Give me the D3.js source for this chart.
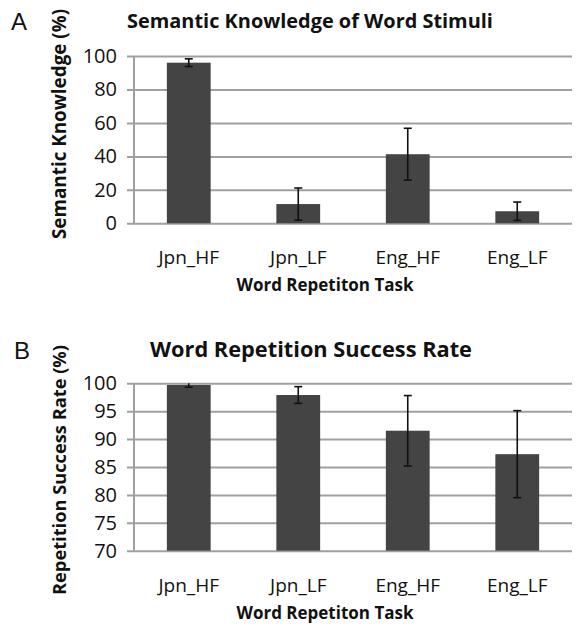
<!DOCTYPE html>
<html>
<head>
<meta charset="utf-8">
<script src="https://cdn.jsdelivr.net/npm/d3@7"></script>
<style>
  body { margin: 0; background: #fff; }
  svg text { font-family: "Open Sans", "DejaVu Sans", sans-serif; fill: #111; }
</style>
</head>
<body>
<svg id="chart" width="576" height="627"></svg>
<script>
// categories shared by both panels
var tasks = ['Jpn_HF', 'Jpn_LF', 'Eng_HF', 'Eng_LF'];

// panel A: semantic knowledge (%)
var knowledgeMean = [96, 11.5, 41.3, 7.2];
var knowledgeErr = [2.3, 9.6, 15.5, 5.5];
var knowledgeTicks = [0, 20, 40, 60, 80, 100];

// panel B: repetition success rate (%)
var successMean = [99.7, 97.9, 91.5, 87.3];
var successErr = [0.4, 1.5, 6.3, 7.8];
var successTicks = [70, 75, 80, 85, 90, 95, 100];

var svg = d3.select('#chart');

// scale a text's font so it runs about as long as the original label
function fitWidth(sel, base, width) {
    sel.style('font-size', base + 'px');
    var len = sel.node().getComputedTextLength();
    if (len > 0) sel.style('font-size', (base * width / len).toFixed(2) + 'px');
    return sel;
}

function drawPanel(opts) {
    var g = svg.append('g');

    var x = d3.scaleBand()
        .domain(tasks)
        .range([134, 572])
        .paddingInner(0.6)
        .paddingOuter(0.3);

    var y = d3.scaleLinear()
        .domain(opts.domain)
        .range([opts.bottom, opts.top]);

    // gridlines + outward ticks
    var yAxis = d3.axisLeft(y)
        .tickValues(opts.ticks)
        .tickSize(-(572 - 127))
        .tickPadding(10)
        .tickFormat(d3.format('d'));

    var ya = g.append('g')
        .attr('transform', 'translate(127,0)')
        .call(yAxis);
    ya.select('.domain').remove();
    ya.selectAll('.tick line')
        .attr('stroke', '#a0a0a0')
        .attr('stroke-width', 2);
    ya.selectAll('.tick text')
        .attr('x', -10)
        .style('font-size', '20px')
        .style('fill', '#111');

    // vertical axis line
    g.append('line')
        .attr('x1', 134).attr('x2', 134)
        .attr('y1', y(opts.domain[0])).attr('y2', y(opts.domain[1]))
        .attr('stroke', '#a0a0a0')
        .attr('stroke-width', 2);

    // bars
    g.selectAll('rect.bar')
        .data(opts.mean)
        .enter().append('rect')
        .attr('class', 'bar')
        .attr('x', function(d, i) { return x(tasks[i]); })
        .attr('width', x.bandwidth())
        .attr('y', function(d) { return y(d); })
        .attr('height', function(d) { return y(opts.domain[0]) - y(d); })
        .attr('fill', '#444');

    // error bars
    var eb = g.selectAll('g.err')
        .data(opts.mean)
        .enter().append('g')
        .attr('class', 'err')
        .attr('stroke', '#111')
        .attr('stroke-width', 1.6);

    eb.each(function(d, i) {
        var cx = x(tasks[i]) + x.bandwidth() / 2;
        var hi = Math.min(d + opts.err[i], opts.domain[1]);
        var lo = d - opts.err[i];
        var sel = d3.select(this);
        sel.append('line')
            .attr('x1', cx).attr('x2', cx)
            .attr('y1', y(hi)).attr('y2', y(lo));
        if (d + opts.err[i] <= opts.domain[1]) {
            sel.append('line')
                .attr('x1', cx - 4).attr('x2', cx + 4)
                .attr('y1', y(hi)).attr('y2', y(hi));
        }
        sel.append('line')
            .attr('x1', cx - 4).attr('x2', cx + 4)
            .attr('y1', y(lo)).attr('y2', y(lo));
    });

    // category labels
    g.selectAll('text.cat')
        .data(tasks)
        .enter().append('text')
        .attr('class', 'cat')
        .attr('x', function(d) { return x(d) + x.bandwidth() / 2; })
        .attr('y', opts.bottom + 41)
        .attr('text-anchor', 'middle')
        .style('font-size', '19px')
        .text(function(d) { return d; });

    // x title
    fitWidth(g.append('text')
        .attr('x', 325)
        .attr('y', opts.bottom + 68)
        .attr('text-anchor', 'middle')
        .style('font-weight', 'bold')
        .text('Word Repetiton Task'), 16, 177);

    // chart title
    fitWidth(g.append('text')
        .attr('x', opts.titleX)
        .attr('y', opts.titleY)
        .attr('text-anchor', 'middle')
        .style('font-weight', 'bold')
        .text(opts.title), 19, opts.titleW);

    // y title
    fitWidth(g.append('text')
        .attr('transform', 'translate(66,' + opts.yTitleMid + ') rotate(-90)')
        .attr('text-anchor', 'middle')
        .style('font-weight', 'bold')
        .text(opts.yTitle), 16, opts.yTitleW);

    // panel letter
    g.append('text')
        .attr('x', opts.letterX)
        .attr('y', opts.titleY + 2)
        .style('font-family', '"Liberation Sans", Arial, sans-serif')
        .style('font-size', '24px')
        .text(opts.letter);
}

drawPanel({
    mean: knowledgeMean,
    err: knowledgeErr,
    ticks: knowledgeTicks,
    domain: [0, 100],
    top: 56,
    bottom: 223.3,
    title: 'Semantic Knowledge of Word Stimuli',
    titleX: 310,
    titleW: 366,
    titleY: 28,
    yTitle: 'Semantic Knowledge  (%)',
    yTitleW: 230,
    yTitleMid: 124,
    letter: 'A',
    letterX: 11
});

drawPanel({
    mean: successMean,
    err: successErr,
    ticks: successTicks,
    domain: [70, 100],
    top: 383.3,
    bottom: 550.7,
    title: 'Word Repetition Success Rate',
    titleX: 311,
    titleW: 322,
    titleY: 357,
    yTitle: 'Repetition Success Rate (%)',
    yTitleW: 250,
    yTitleMid: 470,
    letter: 'B',
    letterX: 14
});
</script>
</body>
</html>
